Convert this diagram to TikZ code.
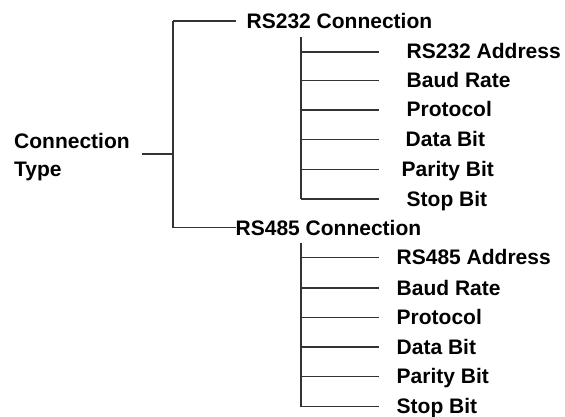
\documentclass[tikz,border=0pt]{standalone}
\usepackage{fontspec}
\setmainfont{Liberation Sans}
\begin{document}
\begin{tikzpicture}[x=1pt,y=-1pt,
  lbl/.style={anchor=base west,inner sep=0pt,font=\fontsize{21}{28}\selectfont\bfseries,text=black},
  conn/.style={line width=1.4pt,draw=black!80}]
\useasboundingbox (0,0) rectangle (565,417);
% root
\node[lbl,align=left] (ct) at (14,176) {Connection\\Type};
\coordinate (j) at (173,154);
\coordinate (jt) at (173,21);
\coordinate (jb) at (173,227.5);
\coordinate (ctl) at (141.5,154);
\node[lbl] (rs232) at (246.5,28.5) {RS232 Connection};
\node[lbl] (rs485) at (235.5,235.5) {RS485 Connection};
\draw[conn] (ctl) -- (j);
\draw[conn] (jt) -- (jb);
\draw[conn] (jt) -- ([xshift=-11pt]rs232.west |- jt);
\draw[conn] (jb) -- (rs485.west |- jb);
% RS232 children
\coordinate (a0) at (301,37);
\foreach \t/\ly/\tx [count=\i] in {RS232 Address/52/406.5, Baud Rate/80.5/406.5, Protocol/110/406.5, Data Bit/139.5/405.5, Parity Bit/169.5/401.5, Stop Bit/199/406.5}{
  \node[lbl] (a\i) at (\tx,\ly+7) {\t};
  \coordinate (al\i) at (301,\ly);
  \draw[conn] (al\i) -- ++(78,0);
}
\draw[conn] (a0) -- (al6);
% RS485 children
\coordinate (b0) at (301,242.5);
\foreach \t/\ly [count=\i] in {RS485 Address/257.5, Baud Rate/288, Protocol/317.5, Data Bit/347, Parity Bit/376.5, Stop Bit/406.5}{
  \node[lbl] (b\i) at (396.5,\ly+7) {\t};
  \coordinate (bl\i) at (301,\ly);
  \draw[conn] (bl\i) -- ++(78,0);
}
\draw[conn] (b0) -- (bl6);
\end{tikzpicture}
\end{document}
